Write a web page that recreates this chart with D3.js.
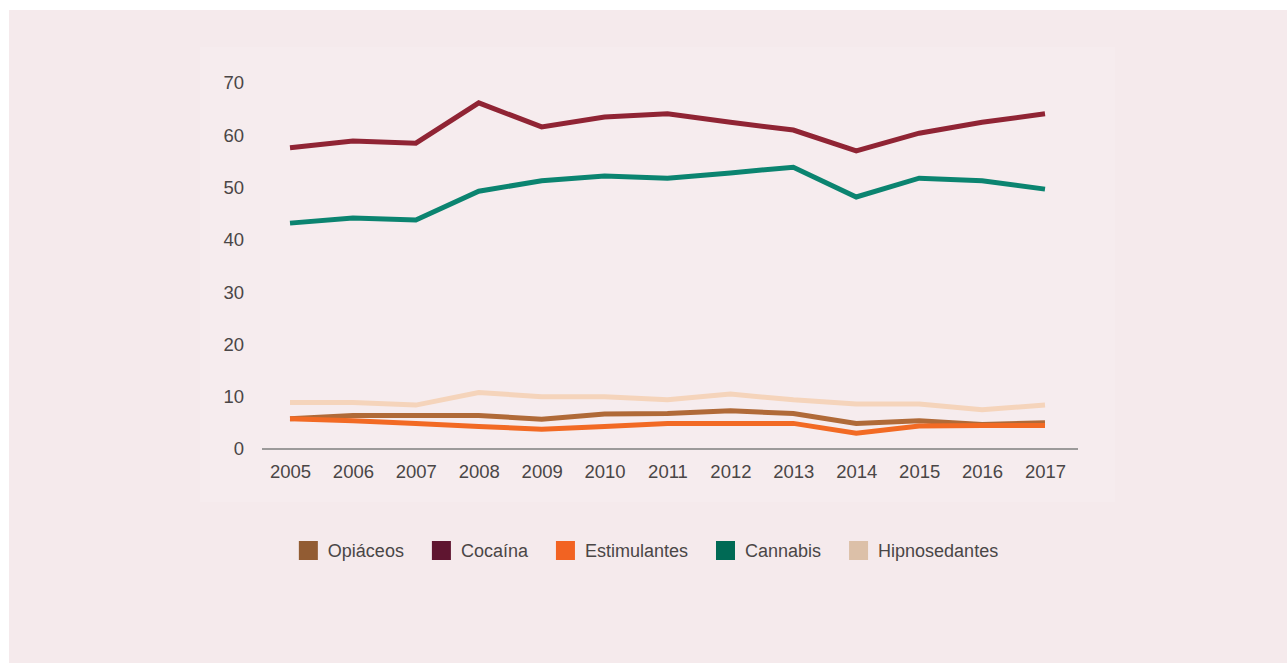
<!DOCTYPE html>
<html>
<head>
<meta charset="utf-8">
<script src="https://cdn.jsdelivr.net/npm/d3@7"></script>
<style>
  html, body { margin: 0; padding: 0; background: #ffffff; }
  svg { display: block; }
  text { font-family: "Liberation Sans", Helvetica, Arial, sans-serif; }
</style>
</head>
<body>
<svg id="chart" width="1287" height="663"></svg>
<script>
const years = [2005, 2006, 2007, 2008, 2009, 2010, 2011, 2012, 2013, 2014, 2015, 2016, 2017];
const yTicks = [0, 10, 20, 30, 40, 50, 60, 70];

const seriesNames = ["Opiáceos", "Cocaína", "Estimulantes", "Cannabis", "Hipnosedantes"];
const opiaceos      = [5.8, 6.4, 6.4, 6.4, 5.7, 6.7, 6.8, 7.3, 6.8, 4.9, 5.4, 4.7, 5.0];
const cocaina       = [57.6, 58.9, 58.5, 66.2, 61.6, 63.5, 64.1, 62.5, 61.0, 57.0, 60.4, 62.5, 64.1];
const estimulantes  = [5.8, 5.4, 4.9, 4.3, 3.8, 4.3, 4.9, 4.9, 4.9, 3.0, 4.4, 4.5, 4.5];
const cannabis      = [43.2, 44.2, 43.8, 49.3, 51.3, 52.2, 51.8, 52.8, 53.9, 48.2, 51.8, 51.3, 49.7];
const hipnosedantes = [8.9, 8.9, 8.4, 10.8, 10.0, 10.0, 9.4, 10.5, 9.4, 8.6, 8.6, 7.5, 8.4];

const lineColors   = ["#b06a38", "#902434", "#f26a24", "#0b8470", "#f5d4bb"];
const legendColors = ["#925c33", "#5f1530", "#f26322", "#006a55", "#dcc0a8"];
const seriesValues = [opiaceos, cocaina, estimulantes, cannabis, hipnosedantes];
const drawOrder = [4, 0, 2, 3, 1];

const svg = d3.select("#chart");
const FONT = "'Liberation Sans', Helvetica, Arial, sans-serif";
const TXT = "#4a4646";

svg.append("rect").attr("x", 9).attr("y", 10).attr("width", 1278).attr("height", 653).attr("fill", "#f5eaec");
svg.append("rect").attr("x", 200).attr("y", 47).attr("width", 915).attr("height", 455).attr("fill", "#f6ecee");

const x = d3.scalePoint().domain(years).range([290, 1045]);
const y = d3.scaleLinear().domain([0, 70]).range([449, 83]);

const yAxis = d3.axisLeft(y).tickValues(yTicks).tickSize(0).tickPadding(0);
const gy = svg.append("g").attr("transform", "translate(244,0)").call(yAxis);
gy.select(".domain").remove();
gy.selectAll("text").attr("font-size", 18.5).attr("fill", TXT).attr("font-family", FONT);

const xAxis = d3.axisBottom(x).tickSize(0).tickPadding(0);
const gx = svg.append("g").attr("transform", "translate(0,465)").call(xAxis);
gx.select(".domain").remove();
gx.selectAll("text").attr("font-size", 18.5).attr("fill", TXT).attr("dy", "0.71em").attr("font-family", FONT);

svg.append("line").attr("x1", 262).attr("x2", 1078).attr("y1", y(0)).attr("y2", y(0))
  .attr("stroke", "#9c9a9a").attr("stroke-width", 2);

const line = d3.line().x((d, i) => x(years[i])).y(d => y(d));

drawOrder.forEach(k => {
  svg.append("path").datum(seriesValues[k])
    .attr("d", line)
    .attr("fill", "none")
    .attr("stroke", lineColors[k])
    .attr("stroke-width", 5)
    .attr("stroke-linejoin", "miter")
    .attr("stroke-linecap", "butt");
});

const lg = svg.append("g");
const items = seriesNames.map((name, i) => {
  const g = lg.append("g");
  g.append("rect").attr("width", 19).attr("height", 19).attr("y", -10).attr("fill", legendColors[i]);
  const t = g.append("text").attr("x", 29).attr("dy", "0.35em").attr("font-size", 18)
    .attr("fill", TXT).attr("font-family", FONT).text(name);
  return { g, w: 29 + t.node().getComputedTextLength() };
});
const gap = 28;
const total = d3.sum(items, d => d.w) + gap * (items.length - 1);
let cx = 648.5 - total / 2;
items.forEach(it => {
  it.g.attr("transform", `translate(${cx},551)`);
  cx += it.w + gap;
});
</script>
</body>
</html>
